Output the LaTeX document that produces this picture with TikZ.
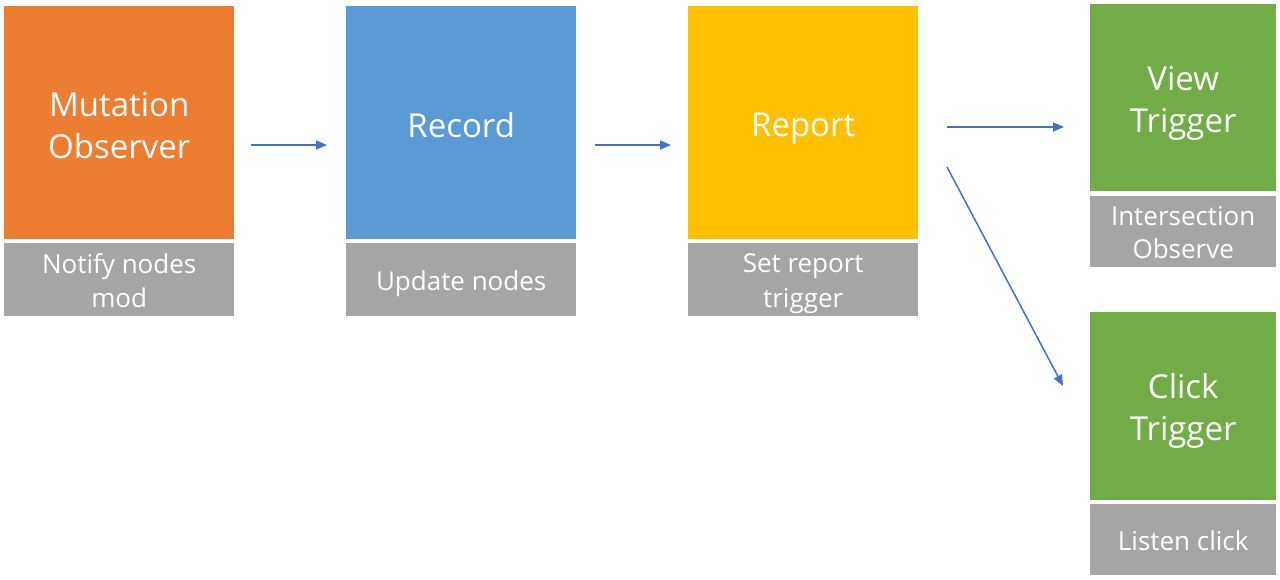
\documentclass[tikz,border=0pt]{standalone}
\usepackage{fontspec}
\setmainfont{Open Sans}
\usetikzlibrary{arrows.meta}
\definecolor{cOrange}{HTML}{ED7D31}
\definecolor{cBlue}{HTML}{5B9BD5}
\definecolor{cYellow}{HTML}{FFC000}
\definecolor{cGreen}{HTML}{70AD47}
\definecolor{cGray}{HTML}{A5A5A5}
\definecolor{cArrow}{HTML}{4472C4}
\newcommand\mainstrut{\rule[-6.5pt]{0pt}{42pt}}
\newcommand\substrut{\rule[-6pt]{0pt}{33pt}}
\tikzset{
  mainbox/.style={anchor=north west, inner sep=0pt, text=white, align=center,
    font=\fontsize{33}{42}\selectfont},
  subbox/.style={anchor=north west, inner sep=0pt, fill=cGray, text=white, align=center,
    font=\fontsize{26}{33}\selectfont},
  flow/.style={draw=cArrow, line width=1.5pt, -{Triangle[length=11pt,width=9pt]}}
}
\begin{document}
\begin{tikzpicture}[x=1pt,y=-1pt]
\useasboundingbox[fill=white] (0,0) rectangle (1280,580);
% main column boxes
\node[mainbox, fill=cOrange, minimum width=230, minimum height=233] (mo) at (4,6) {\mainstrut Mutation\\\mainstrut Observer};
\node[subbox, minimum width=230, minimum height=73] (mos) at (4,243) {\substrut Notify nodes\\\substrut mod};
\node[mainbox, fill=cBlue, minimum width=230, minimum height=233] (rec) at (346,6) {\mainstrut Record};
\node[subbox, minimum width=230, minimum height=73] (recs) at (346,243) {\substrut Update nodes};
\node[mainbox, fill=cYellow, minimum width=230, minimum height=233] (rep) at (688,6) {\mainstrut Report};
\node[subbox, minimum width=230, minimum height=73] (reps) at (688,243) {\substrut Set report\\\substrut trigger};
% right column
\node[mainbox, fill=cGreen, minimum width=186, minimum height=187] (vt) at (1090,4) {\mainstrut View\\\mainstrut Trigger};
\node[subbox, minimum width=186, minimum height=71] (vts) at (1090,196) {\substrut Intersection\\\substrut Observe};
\node[mainbox, fill=cGreen, minimum width=186, minimum height=188] (ct) at (1090,312) {\mainstrut Click\\\mainstrut Trigger};
\node[subbox, minimum width=186, minimum height=71] (cts) at (1090,504) {\substrut Listen click};
% arrow end points
\coordinate (a1s) at (251,145);
\coordinate (a1e) at (327,145);
\coordinate (a2s) at (595,145);
\coordinate (a2e) at (671,145);
\coordinate (a3s) at (947,127);
\coordinate (a3e) at (1064,127);
\coordinate (a4s) at (947,167);
\coordinate (a4e) at (1063,386);
\draw[flow] (a1s) -- (a1e);
\draw[flow] (a2s) -- (a2e);
\draw[flow] (a3s) -- (a3e);
\draw[flow] (a4s) -- (a4e);
\end{tikzpicture}
\end{document}
